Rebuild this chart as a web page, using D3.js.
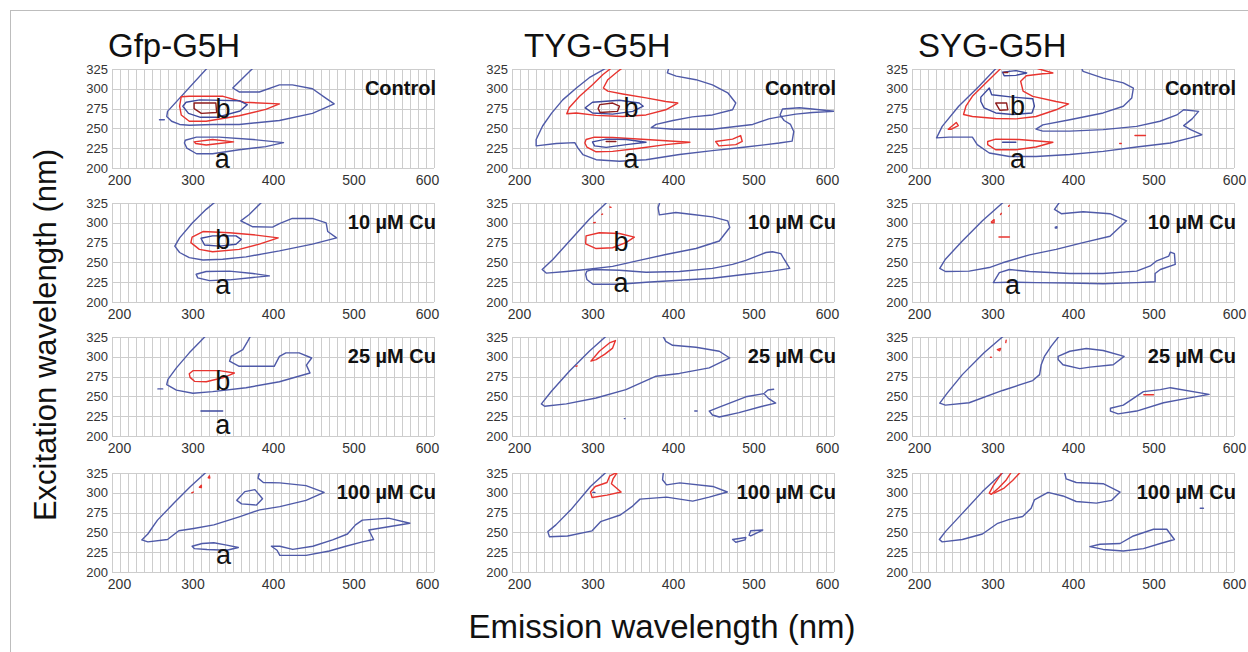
<!DOCTYPE html>
<html>
<head>
<meta charset="utf-8">
<script src="https://cdn.jsdelivr.net/npm/d3@7/dist/d3.min.js"></script>
<style>
  body { margin: 0; background: #fff; }
  svg { display: block; font-family: Arial, "Liberation Sans", sans-serif; }
</style>
</head>
<body>
<div id="chart"></div>
<script>
// ─────────────────────────────────────────────────────────────
// Data: contour lines (emission nm, excitation nm)
// lvl 1 = outer contour, 2 = second, 3 = third, 4 = innermost
// ─────────────────────────────────────────────────────────────

const constructs = ['Gfp-G5H', 'TYG-G5H', 'SYG-G5H'];
const treatments = ['Control', '10 µM Cu', '25 µM Cu', '100 µM Cu'];
const xTicks = [200, 300, 400, 500, 600];
const yTicks = [200, 225, 250, 275, 300, 325];

const gfp_ctrl = [
  {lvl: 1, closed: false, pts: [[319,327],[269,271.5],[268,265],[274,259],[284,255],[296,254],[325,255],[358,255],[408,260],[449,269],[476,281],[466,288],[449,300],[424,305],[408,305],[383,296],[358,296],[350,301],[375,326]]},
  {lvl: 1, closed: false, pts: [[259,261],[265,261]]},
  {lvl: 2, closed: true,  pts: [[286,290],[296,290.5],[338,290.5],[364,283],[408,281],[391,274],[358,266],[317,259],[296,259],[286,267],[284,278]]},
  {lvl: 3, closed: true,  pts: [[292,283],[309,286],[358,285],[368,280],[359,272],[330,264],[310,264],[295,269],[288,278]]},
  {lvl: 4, closed: true,  pts: [[302,282],[329,282],[330,270],[311,269],[302,275]]},
  {lvl: 1, closed: true,  pts: [[291,235],[305,239],[333,239],[375,236],[413,232],[391,227],[358,223],[325,218],[305,218],[293,225],[290,231.5]]},
  {lvl: 2, closed: true,  pts: [[302,233],[325,236],[351,233],[333,231],[317,229],[304,231]]}
];

const tyg_ctrl = [
  {lvl: 1, closed: false, pts: [[318,327],[313,324],[296,314],[280,301],[263,286],[249,269],[238,253],[230,236],[230,228],[255,231],[278,232],[282,225],[288,217],[304.5,210.5],[333.5,208.5],[366.5,210.5],[408,217],[449,222],[490.5,226.5],[532,231.5],[548,234],[550,246],[546,255],[538,260],[533,267],[536,274.5],[557,276],[573,274.5],[601,271.5],[573,270],[552.5,268],[532,264.5],[519,262],[499,255],[449,249],[400,249],[373,251],[379,255],[400,260],[424,264.5],[449,267],[474,273.5],[478,282],[468,295],[449,305],[428.5,311.5],[404,316],[393,320],[395,327]]},
  {lvl: 2, closed: false, pts: [[325,327.5],[313,318],[300,305],[284,290.5],[271,276],[268,268.5],[280,269.5],[304.5,266.5],[337.5,265],[366.5,267],[391,273.5],[406,282],[391,284],[366.5,288.5],[337.5,293.5],[319,297],[313.5,301],[319,311.5],[329,320],[338.5,327.5]]},
  {lvl: 3, closed: true,  pts: [[291,276],[300,283],[333.5,285.5],[358,282],[363,278],[350,271.5],[325,268],[300,269.5]]},
  {lvl: 4, closed: true,  pts: [[309,280],[325,282],[333.5,278],[331,271.5],[309.5,270],[307,275]]},
  {lvl: 2, closed: true,  pts: [[292,236],[302.5,239],[325,238.5],[366.5,236],[421,232.5],[391,229.5],[358,225],[325,221],[304.5,220.5],[293,226.5],[290.5,231.5]]},
  {lvl: 3, closed: true,  pts: [[300,233],[317,236.5],[342,236],[366.5,232.5],[342,229.5],[317,226],[302.5,228]]},
  {lvl: 4, closed: false, pts: [[317,233.5],[329,233.5]]},
  {lvl: 2, closed: true,  pts: [[453,233.5],[474,236.5],[484,241],[486,233.5],[478,229.5],[457,228]]}
];

const syg_ctrl = [
  {lvl: 1, closed: false, pts: [[306,327.5],[283,303],[258,278],[237.5,252.5],[230.5,238],[246,239],[275,239],[281,229.5],[296,219],[321,214.5],[354,214.5],[396,217],[437.5,221],[479,226.5],[521,231.5],[546,238],[560,242],[546,248.5],[537.5,253.5],[548,262],[556,271.5],[537.5,273.5],[529,267],[508,259],[479,252.5],[437.5,248.5],[396,246.5],[362.5,246.5],[354,249],[362.5,254.5],[396,261],[437.5,269.5],[462.5,278],[473,288.5],[475,301],[462.5,307.5],[437.5,313.5],[412.5,322],[410,327.5]]},
  {lvl: 2, closed: false, pts: [[312,327.5],[292,307.5],[275,290.5],[267,278],[264,267.5],[275,265],[304,262.5],[329,262],[354,265],[379,273.5],[394.5,281],[379,284],[350,290.5],[338,297],[335,309.5],[342,316.5],[362.5,319],[375,320],[358,325],[350,327.5]]},
  {lvl: 3, closed: true,  pts: [[285.5,289.5],[296,301],[299,292.5],[325,289.5],[350,287.5],[352,278],[349,269.5],[325,267.5],[304,269.5],[289.5,276],[285.5,284]]},
  {lvl: 4, closed: true,  pts: [[304,282],[317.5,282],[319,273.5],[309,273]]},
  {lvl: 3, closed: true,  pts: [[312.5,321],[329,323],[342.5,320],[329,317],[314.5,316.5]]},
  {lvl: 4, closed: false, pts: [[314,320.5],[319,320.5]]},
  {lvl: 2, closed: true,  pts: [[294,233.5],[304,236.5],[333,236],[375,232.5],[354,226.5],[329,223],[304,223],[294,229.5]]},
  {lvl: 3, closed: false, pts: [[312.5,232.5],[329,232.5]]},
  {lvl: 2, closed: true,  pts: [[245,249],[255,257.5],[257.5,253.5],[249,249]]},
  {lvl: 2, closed: false, pts: [[477,241],[490,241]]},
  {lvl: 2, closed: false, pts: [[458,231],[460,231]]}
];

const gfp_cu10 = [
  {lvl: 1, closed: false, pts: [[329,327],[317,317],[300,300],[284,281],[278,270.5],[284,262.5],[296,256],[313,253],[337.5,254],[366.5,257],[408,264.5],[449,273],[479,281],[468,289],[466,300],[449,305.5],[424,305.5],[408,299],[399.5,294.5],[375,295],[360,302.5],[370.5,310.5],[387,327]]},
  {lvl: 2, closed: true,  pts: [[299.5,282],[313,289],[346,287.5],[379,284.5],[406.5,281],[383,273],[358,266.5],[325,263.5],[308.5,266.5],[298,275]]},
  {lvl: 3, closed: true,  pts: [[310.5,280.5],[325,283.5],[354,283.5],[360.5,279],[354,273],[333.5,270.5],[315,272]]},
  {lvl: 1, closed: true,  pts: [[304.5,235],[317,238.5],[346,239],[375,236],[395.5,233],[375,231],[346,228],[321,227],[306.5,230.5]]}
];

const tyg_cu10 = [
  {lvl: 1, closed: false, pts: [[319,327],[296,304.5],[271.5,277],[251,254],[237.5,241],[242.5,236.5],[267.5,238.5],[292,241],[325,245],[358,252.5],[391,260],[428.5,267.5],[457.5,277],[470.5,294],[468,302.5],[449,307.5],[424.5,310.5],[403.5,313],[383,310],[381.5,319],[384,327]]},
  {lvl: 1, closed: true,  pts: [[293,239],[300.5,241],[333.5,240],[366.5,237.5],[408,238.5],[449,242.5],[474,247.5],[490.5,252.5],[515.5,262.5],[523.5,263.5],[534,261],[538,254],[545,242.5],[523.5,239],[490.5,235],[449,230],[408,227.5],[366.5,225],[333.5,222.5],[300.5,222.5],[293,228.5],[291.5,235]]},
  {lvl: 2, closed: true,  pts: [[292,283.5],[308.5,287.5],[333.5,286.5],[352,282],[341.5,275],[325,268.5],[304.5,267.5],[291.5,273.5]]},
  {lvl: 2, closed: false, pts: [[301.5,300],[303.5,300.5]]},
  {lvl: 2, closed: false, pts: [[311.5,310.5],[312.5,311]]},
  {lvl: 2, closed: false, pts: [[321.5,320],[323,319.5]]}
];

const syg_cu10 = [
  {lvl: 1, closed: false, pts: [[314.5,327],[287.5,302.5],[262.5,277],[241.5,254],[234.5,242.5],[241.5,238.5],[271,239],[296,243.5],[312.5,249.5],[346,259.5],[379,266.5],[412.5,275],[446,283],[466.5,302.5],[446,311.5],[412.5,314],[385.5,311.5],[377,317],[384,327]]},
  {lvl: 1, closed: true,  pts: [[378,294.5],[380,295],[380,293.5],[378,293.5]]},
  {lvl: 1, closed: true,  pts: [[301,224.5],[308.5,237],[321,241],[346,238.5],[396,236],[437.5,236],[479,239],[496,245.5],[504,252],[519,258],[521,263],[526,261],[527,247.5],[508.5,241],[502,236],[502,225.5],[479,224.5],[437.5,223],[396,224],[354,224.5],[321,225]]},
  {lvl: 2, closed: true,  pts: [[298.5,301],[302,304],[302,300],[299,300]]},
  {lvl: 2, closed: false, pts: [[310,310.5],[311,312]]},
  {lvl: 2, closed: false, pts: [[320,321],[321,322]]},
  {lvl: 2, closed: false, pts: [[308,282],[321,282]]}
];

const gfp_cu25 = [
  {lvl: 1, closed: false, pts: [[317,327],[296,305],[280,286],[269.5,271.5],[268,265],[280,258],[300.5,254],[325,256],[366.5,261],[408,268.5],[446,279.5],[441.5,289.5],[448,298.5],[432.5,305],[416,305],[408,300.5],[401.5,288],[358,288],[346,294.5],[348,300.5],[362.5,309],[368.5,319.5],[372.5,327]]},
  {lvl: 1, closed: false, pts: [[257,259.5],[263,259.5]]},
  {lvl: 2, closed: true,  pts: [[296,278.5],[300.5,282.5],[333.5,282.5],[352,279.5],[337.5,273.5],[317,268.5],[302.5,269],[297,274]]},
  {lvl: 3, closed: false, pts: [[310.5,231.5],[337.5,231.5]]}
];

const tyg_cu25 = [
  {lvl: 1, closed: false, pts: [[318,327],[296,307],[271.5,282],[249,256.5],[236.5,240.5],[240.5,237.5],[267.5,240.5],[304.5,248],[341.5,258.5],[379,275.5],[408,279],[445,286],[470.5,298.5],[457.5,307],[428.5,312],[399.5,314.5],[391,319.5],[387,327]]},
  {lvl: 1, closed: true,  pts: [[445,231.5],[457.5,236.5],[490.5,249.5],[513,253.5],[518.5,247.5],[527.5,241.5],[511,237.5],[482,229.5],[457.5,224],[449,226.5]]},
  {lvl: 1, closed: false, pts: [[514,254.5],[518,258],[525,259]]},
  {lvl: 1, closed: false, pts: [[427,231.5],[430,231.5]]},
  {lvl: 1, closed: false, pts: [[339.5,222],[340.5,222]]},
  {lvl: 2, closed: true,  pts: [[298,294.5],[308.5,307],[321,317.5],[328.5,320.5],[325,311],[315,303],[304.5,296.5]]},
  {lvl: 2, closed: false, pts: [[279.5,288],[281,288.5]]}
];

const syg_cu25 = [
  {lvl: 1, closed: false, pts: [[314.5,327],[289.5,305],[262.5,277.5],[244,254.5],[234.5,241.5],[241.5,239],[271,242],[312.5,257.5],[350,270],[358.5,277.5],[360.5,290],[364.5,300.5],[373,313.5],[383.5,327]]},
  {lvl: 1, closed: true,  pts: [[381.5,300.5],[396,307],[416.5,310.5],[437.5,308],[463.5,300.5],[450,290],[421,287],[408.5,285],[387.5,290],[381.5,296.5]]},
  {lvl: 1, closed: true,  pts: [[446.5,235],[462.5,239],[487.5,256],[508.5,258.5],[521,261],[569,252.5],[541.5,247.5],[512.5,242],[479,231.5],[456,228],[446.5,231.5]]},
  {lvl: 2, closed: false, pts: [[488,252],[500,252]]},
  {lvl: 2, closed: true,  pts: [[306,309],[310,310.5],[309,307.5]]},
  {lvl: 2, closed: false, pts: [[316.5,318],[317,321]]},
  {lvl: 2, closed: false, pts: [[297.5,299.5],[298.5,299.5]]}
];

const gfp_cu100 = [
  {lvl: 1, closed: false, pts: [[318,327],[297.5,308],[277,287],[256.5,265.5],[244.5,248],[237,240.5],[244.5,238],[269,241],[283,252],[301.5,255],[326.5,259.5],[359,270],[383.5,278.5],[408.5,282.5],[441,290.5],[463.5,300.5],[441,309],[408.5,312.5],[388,313],[381.5,318.5],[383.5,327]]},
  {lvl: 1, closed: true,  pts: [[355,290.5],[365,301.5],[377.5,304],[387,292.5],[379.5,284.5],[361,286]]},
  {lvl: 1, closed: true,  pts: [[398,232.5],[408.5,232.5],[424.5,228.5],[449.5,232.5],[474,240.5],[492.5,248],[502.5,259.5],[511,265.5],[543.5,268],[570,261.5],[519,253],[525,241],[511,238],[490.5,232.5],[470,226.5],[441,221],[408.5,221],[405,227.5]]},
  {lvl: 1, closed: true,  pts: [[299.5,232.5],[312,236],[326.5,237],[342.5,234],[357,231],[342.5,227.5],[318,228.5],[302.5,229.5]]},
  {lvl: 2, closed: false, pts: [[299,300],[301,301]]},
  {lvl: 2, closed: true,  pts: [[308.5,307],[311,309.5],[311,306.5]]},
  {lvl: 2, closed: true,  pts: [[319.5,319],[321,321.5],[321.5,318.5]]},
  {lvl: 2, closed: false, pts: [[328,325.5],[328.5,326.5]]}
];

const tyg_cu100 = [
  {lvl: 1, closed: false, pts: [[318,327],[297.5,308],[273,278.5],[254.5,259.5],[244.5,251],[246.5,244.5],[269,245.5],[299.5,252],[310,263.5],[334.5,272],[349,282.5],[359,292],[392,294.5],[424.5,289.5],[445,294.5],[467.5,301],[449.5,308],[408.5,312.5],[392,310],[387,316.5],[388,326]]},
  {lvl: 2, closed: true,  pts: [[297.5,301],[303.5,308],[318,313],[321.5,321.5],[331,326],[325.5,317.5],[323.5,311.5],[335.5,301],[318,297],[299.5,294]]},
  {lvl: 3, closed: false, pts: [[300.5,300.5],[303,300.5]]},
  {lvl: 1, closed: true,  pts: [[474,241],[490.5,243.5],[489.5,240.5],[478,237.5]]},
  {lvl: 1, closed: true,  pts: [[494.5,246.5],[496.5,252],[511.5,253],[496.5,245.5]]}
];

const syg_cu100 = [
  {lvl: 1, closed: false, pts: [[314.5,327],[287.5,301.5],[262.5,274],[241.5,251],[234,241],[237.5,238],[262.5,241],[287.5,248],[306.5,261.5],[321,266.5],[337.5,270],[348,280.5],[352,291],[369,300.5],[387.5,296],[404,289],[429,287],[448,290.5],[458.5,301],[437.5,311.5],[404,313],[391.5,317.5],[389.5,326]]},
  {lvl: 1, closed: true,  pts: [[421,232],[433.5,235],[458.5,236],[475,245.5],[500,254],[516.5,254],[526,241],[508.5,236],[487.5,229.5],[462.5,226.5],[437.5,228.5]]},
  {lvl: 2, closed: true,  pts: [[296,299.5],[301,309],[309,321],[312.5,327],[324,327],[316.5,315.5],[307.5,306],[298.5,298]]},
  {lvl: 2, closed: false, pts: [[335.5,327],[325,315.5],[314.5,306],[302,299.5]]},
  {lvl: 1, closed: false, pts: [[558,280.5],[562,280.5]]}
];

// panels in reading order (row = treatment, column = construct)
const panels = [
  gfp_ctrl, tyg_ctrl, syg_ctrl,
  gfp_cu10, tyg_cu10, syg_cu10,
  gfp_cu25, tyg_cu25, syg_cu25,
  gfp_cu100, tyg_cu100, syg_cu100
];

// peak labels: [emission, excitation] of the letter baseline, null = no label
const peak_b = [
  [338,263], [348,265], [331,267],
  [337.5,267.5], [335.5,265], null,
  [337.5,257.5], null, null,
  null, null, null
];
const peak_a = [
  [337,200.5], [348,200.5], [331,200.5],
  [337.5,210.5], [335.5,213], [325,209.5],
  [337.5,203], null, null,
  [338.5,210.5], null, null
];

// ─────────────────────────────────────────────────────────────
// Layout
// ─────────────────────────────────────────────────────────────

const width = 1248;
const height = 652;
const colX = [112, 512, 912];
const rowY = [69, 203, 337, 473];
const pw = 322;
const ph = 99;

const levelColor = {1: '#4f5aa8', 2: '#e8342f', 3: '#3e4a9e', 4: '#8e1d1d'};

const svg = d3.select('#chart').append('svg')
  .attr('width', width)
  .attr('height', height)
  .attr('viewBox', [0, 0, width, height]);

svg.append('rect')
  .attr('x', 10.5).attr('y', 10.5)
  .attr('width', width).attr('height', height)
  .attr('fill', '#fff')
  .attr('stroke', '#bdbdbd');

svg.append('defs').append('clipPath').attr('id', 'plot-clip')
  .append('rect').attr('width', pw).attr('height', ph);

const x = d3.scaleLinear().domain([200, 600]).range([0, pw]);
const y = d3.scaleLinear().domain([200, 325]).range([ph, 0]);

const lineOpen = d3.line().x(d => x(d[0])).y(d => y(d[1]));
const lineClosed = d3.line().x(d => x(d[0])).y(d => y(d[1])).curve(d3.curveLinearClosed);

const xGrid = d3.range(200, 601, 10);

panels.forEach((contours, i) => {
  const r = Math.floor(i / 3);
  const c = i % 3;
  const g = svg.append('g')
    .attr('transform', `translate(${colX[c]},${rowY[r]})`);

  // grid
  g.append('g').selectAll('line')
    .data(xGrid)
    .join('line')
    .attr('x1', d => Math.round(x(d)) + 0.5)
    .attr('x2', d => Math.round(x(d)) + 0.5)
    .attr('y1', 0).attr('y2', ph)
    .attr('stroke', '#cdcdcd');
  g.append('g').selectAll('line')
    .data(yTicks)
    .join('line')
    .attr('y1', d => Math.round(y(d)) + 0.5)
    .attr('y2', d => Math.round(y(d)) + 0.5)
    .attr('x1', 0).attr('x2', pw)
    .attr('stroke', '#cdcdcd');

  // axes (Excel nudges the end labels inward)
  const ax = g.append('g')
    .attr('transform', `translate(0,${ph})`)
    .call(d3.axisBottom(x).tickValues(xTicks).tickSize(0).tickPadding(7));
  ax.select('.domain').remove();
  ax.selectAll('text')
    .attr('font-size', 14).attr('fill', '#333').attr('font-family', 'Arial, "Liberation Sans", sans-serif')
    .attr('dx', d => d === 200 ? 7 : (d === 600 && c < 2 ? -7 : 0));

  const ay = g.append('g')
    .call(d3.axisLeft(y).tickValues(yTicks).tickSize(0).tickPadding(4));
  ay.select('.domain').remove();
  ay.selectAll('text')
    .attr('font-size', 13).attr('fill', '#333').attr('font-family', 'Arial, "Liberation Sans", sans-serif');

  // contours
  g.append('g')
    .attr('clip-path', 'url(#plot-clip)')
    .selectAll('path')
    .data(contours)
    .join('path')
    .attr('d', d => d.closed ? lineClosed(d.pts) : lineOpen(d.pts))
    .attr('fill', 'none')
    .attr('stroke', d => levelColor[d.lvl])
    .attr('stroke-width', 1.4)
    .attr('stroke-linejoin', 'round')
    .attr('stroke-linecap', 'round');

  // peak letters
  [['b', peak_b[i]], ['a', peak_a[i]]].forEach(([txt, p]) => {
    if (!p) return;
    g.append('text')
      .attr('x', x(p[0])).attr('y', y(p[1]))
      .attr('text-anchor', 'middle')
      .attr('font-size', 27)
      .attr('fill', '#111')
      .text(txt);
  });

  // treatment label
  g.append('text')
    .attr('x', pw + 2)
    .attr('y', y(292))
    .attr('text-anchor', 'end')
    .attr('font-size', 20)
    .attr('font-weight', 'bold')
    .attr('fill', '#111')
    .text(treatments[r]);
});

// construct titles
const titleOffset = [-4, 12, 6];
svg.append('g').selectAll('text')
  .data(constructs)
  .join('text')
  .attr('x', (d, i) => colX[i] + titleOffset[i])
  .attr('y', 57)
  .attr('font-size', 33)
  .attr('fill', '#111')
  .text(d => d);

// axis titles
svg.append('text')
  .attr('transform', 'translate(56,335) rotate(-90)')
  .attr('text-anchor', 'middle')
  .attr('font-size', 31)
  .attr('fill', '#111')
  .text('Excitation wavelength (nm)');

svg.append('text')
  .attr('x', 662)
  .attr('y', 638)
  .attr('text-anchor', 'middle')
  .attr('font-size', 33)
  .attr('fill', '#111')
  .text('Emission wavelength (nm)');
</script>
</body>
</html>
